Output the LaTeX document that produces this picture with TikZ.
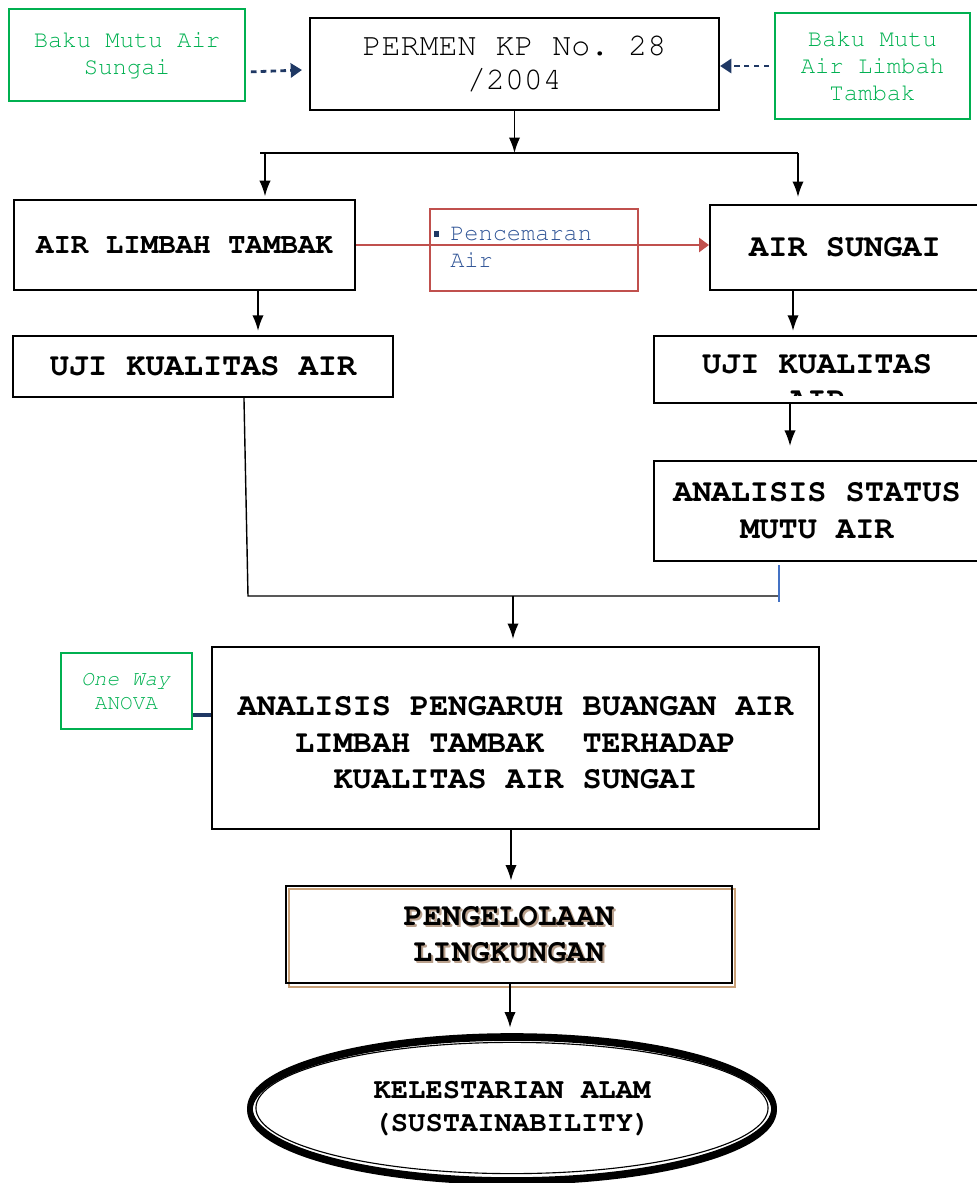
\documentclass[tikz,border=0pt]{standalone}
\usepackage[T1]{fontenc}
\renewcommand{\ttdefault}{pcr}
\usetikzlibrary{arrows.meta,shapes.geometric}
\definecolor{grn}{RGB}{0,176,80}
\definecolor{navy}{RGB}{31,56,100}
\definecolor{redbox}{RGB}{192,80,77}
\definecolor{bluetxt}{RGB}{47,84,150}
\definecolor{blueline}{RGB}{68,114,196}
\definecolor{tan}{RGB}{200,160,120}
\definecolor{shade}{RGB}{185,160,140}
\frenchspacing

\begin{document}
\begin{tikzpicture}[x=0.025cm,y=-0.025cm,box/.style={draw,line width=1.4pt,inner sep=0pt,align=center,font=\ttfamily\bfseries\fontsize{22.7}{26}\selectfont},note/.style={draw=grn,line width=1.2pt,text=grn,inner sep=0pt,align=center,font=\ttfamily\fontsize{17}{19}\selectfont},arr/.style={-{Latex[length=11pt,width=8pt]},line width=1pt},dasharr/.style={-{Triangle[length=8pt,width=10pt]},draw=navy,line width=2pt,dash pattern=on 4pt off 3pt},pollute/.style={-{Triangle[length=7pt,width=10pt]},draw=redbox,line width=1.4pt},]
    \useasboundingbox (0,0) rectangle (976,1183);

    % top row
    \node[note,minimum width=5.9cm,minimum height=2.3cm] (bms) at (127,55) {Baku Mutu Air\\Sungai};
    \node[box,font=\ttfamily\fontsize{22.5}{24.2}\selectfont,minimum width=10.225cm,minimum height=2.3cm] (permen) at (514.5,64) {PERMEN KP No. 28\\/2004};
    \node[note,minimum width=4.875cm,minimum height=2.65cm] (bmt) at (872.5,66) {Baku Mutu\\Air Limbah\\Tambak};
    \draw[dasharr] ([xshift=0.125cm,yshift=0.75cm]bms.south east) -- ([xshift=-0.175cm,yshift=-0.15cm]permen.west);
    \draw[dasharr] ([xshift=-0.125cm]bmt.west) -- (bmt.west -| permen.east);

    % branch
    \coordinate (hl) at (260,153);
    \coordinate (hr) at (798,153);
    \draw[arr] (permen.south) -- (permen.south |- hl);
    \draw[line width=1pt] (hl) -- (hr);

    \node[box,font=\ttfamily\bfseries\fontsize{20.7}{24}\selectfont,minimum width=8.525cm,minimum height=2.25cm] (alt) at (184.5,245) {AIR LIMBAH TAMBAK};
    \node[box,minimum width=6.75cm,minimum height=2.125cm] (as) at (845,247.5) {AIR SUNGAI};
    \draw[arr,shorten >=2pt] ([xshift=0.125cm]hl) -- ([xshift=0.125cm]hl |- alt.north);
    \draw[arr,shorten >=5pt] (hr) -- (hr |- as.north);

    \node[draw=redbox,line width=1.2pt,minimum width=5.2cm,minimum height=2.05cm] (pcm) at (534,250) {};
    \draw[pollute] (alt.east) -- (alt.east -| as.west);
    \node[anchor=west,inner sep=0pt,align=left,text=bluetxt,font=\ttfamily\fontsize{16.8}{19.2}\selectfont] (pcmtxt) at (450,247) {\llap{\textcolor{navy}{\rule[0.35ex]{0.22em}{0.22em}}\hspace{0.46em}}Pencemaran\\Air};

    % uji kualitas
    \node[box,minimum width=9.5cm,minimum height=1.525cm] (ujil) at (203,366.5) {UJI KUALITAS AIR};
    \node[box,minimum width=8.15cm,minimum height=1.675cm] (ujir) at (817,369.5) {};
    \node[box,draw=none,anchor=base] (ujirtxt) at (817,373) {UJI KUALITAS};
    \begin{scope}
        \clip (656,338) rectangle (978,395);
        \node[box,draw=none,anchor=base] (ujirair) at (817,409.6) {AIR};
    \end{scope}
    \draw[arr,shorten >=3pt] (alt.south -| 258,0) -- (258,0 |- ujil.north);
    \draw[arr,shorten >=3pt] (as.south -| 793,0) -- (793,0 |- ujir.north);

    \node[box,minimum width=8.15cm,minimum height=2.5cm] (ans) at (817,511) {ANALISIS STATUS\\MUTU AIR};
    \draw[arr,shorten >=10pt] (ujir.south -| 790,0) -- (790,0 |- ans.north);

    % join
    \coordinate (j1) at (248,596);
    \coordinate (j2) at (779,596);
    \coordinate (jm) at (513,596);
    \draw[line width=1pt] (ujil.south west) ++(232,0) -- (j1) -- (j2);
    \draw[blueline,line width=1pt] (ans.south -| j2) ++(0,3) -- ++(0,37);

    \node[box,minimum width=15.175cm,minimum height=4.55cm] (apb) at (515.5,738) {};
    \node[box,draw=none] (apbtxt) at (515.5,743) {ANALISIS PENGARUH BUANGAN AIR\\LIMBAH TAMBAK~~TERHADAP\\KUALITAS AIR SUNGAI};
    \draw[arr,shorten >=5pt] (jm) -- (jm |- apb.north);
    \node[note,font=\ttfamily\fontsize{15}{17}\selectfont,minimum width=3.275cm,minimum height=1.9cm] (anova) at (126.5,691) {\textit{One Way}\\ANOVA};
    \draw[navy,line width=3.5pt] (anova.east |- 0,715) -- (apb.west |- 0,715);

    % pengelolaan
    \draw[tan,line width=1.4pt] (289,889) rectangle (735,987);
    \node[box,draw=none,text=shade] (pglshd) at (511,936.5) {PENGELOLAAN\\LINGKUNGAN};
    \node[box,line width=1.8pt,minimum width=11.15cm,minimum height=2.425cm] (pgl) at (509,934.5) {PENGELOLAAN\\LINGKUNGAN};
    \draw[arr,shorten >=3pt] (apb.south -| 511,0) -- (511,0 |- pgl.north);

    % kelestarian
    \draw[line width=4pt] (512,1110) ellipse [x radius=6.55cm,y radius=1.8cm];
    \node[ellipse,draw,line width=4pt,inner sep=0pt,minimum width=13.1cm,minimum height=3.6cm,align=center,font=\ttfamily\bfseries\fontsize{20.5}{23.5}\selectfont] (kel) at (512,1108) {KELESTARIAN ALAM\\(SUSTAINABILITY)};
    \draw[line width=0.8pt] (kel.center) ellipse [x radius=6.4cm,y radius=1.64cm];
    \draw[arr,shorten >=4pt] (pgl.south -| 510,0) -- (510,0 |- kel.north);
\end{tikzpicture}
\end{document}
